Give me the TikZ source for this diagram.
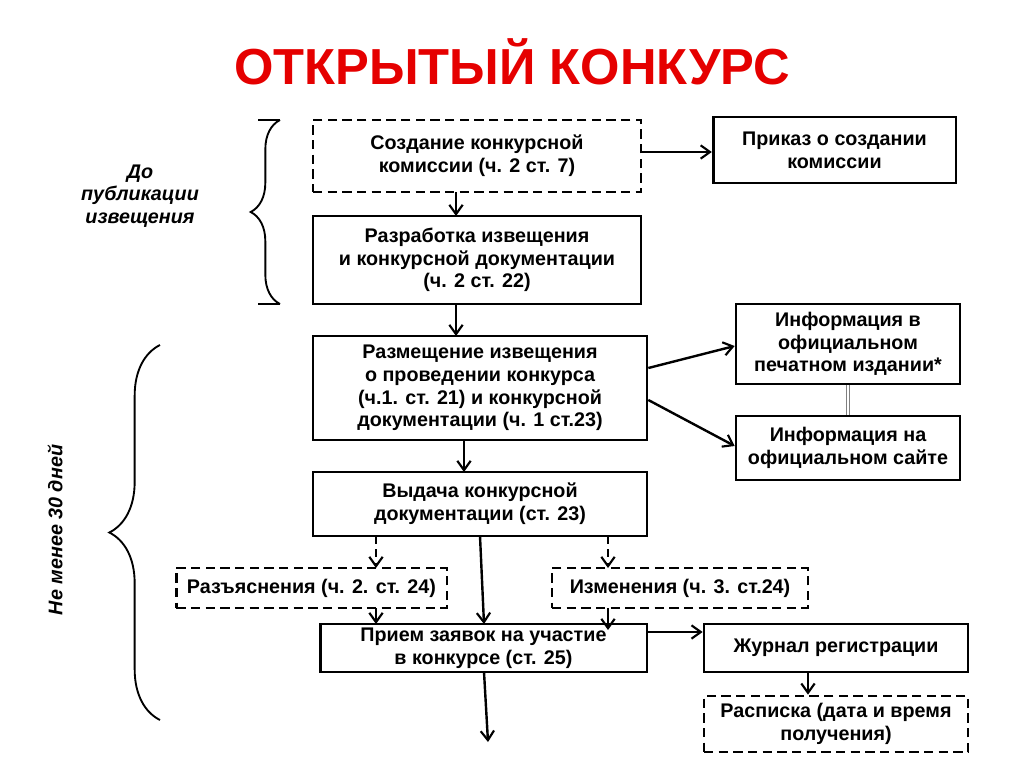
\documentclass[tikz,border=0pt]{standalone}
\usepackage{fontspec}
\setmainfont{Liberation Sans}
\usetikzlibrary{arrows.meta,decorations.pathreplacing}
\begin{document}
\begin{tikzpicture}[x=0.75pt,y=-0.75pt,
  box/.style={draw,line width=2pt,align=center,font=\bfseries\fontsize{14.8}{17}\selectfont,inner sep=0pt},
  dbox/.style={box,dash pattern=on 7pt off 4pt},
  arr/.style={-{Straight Barb[length=7pt,width=10pt,line width=1.6pt]},line width=1.8pt},
  darr/.style={arr,dash pattern=on 6pt off 4pt}]
\useasboundingbox (0,0) rectangle (1024,768);
\node[font=\bfseries\fontsize{38}{44}\selectfont,text=red!90!black] (title) at (512,62) {ОТКРЫТЫЙ КОНКУРС};
\node[dbox,minimum width=246pt,minimum height=54pt] (b1) at (477,156) {Создание конкурсной\\комиссии (ч. 2 ст. 7)};
\node[box,minimum width=182pt,minimum height=49.5pt] (pr) at (834.5,150) {Приказ о создании\\комиссии};
\node[box,minimum width=246pt,minimum height=66pt] (b2) at (477,260) {Разработка извещения\\и конкурсной документации\\(ч. 2 ст. 22)};
\node[box,minimum width=250.5pt,minimum height=78pt] (b3) at (480,388) {Размещение извещения\\ о проведении конкурса\\(ч.1. ст. 21) и конкурсной\\документации (ч. 1 ст.23)};
\node[box,minimum width=168pt,minimum height=60pt] (i1) at (848,344) {Информация в\\официальном\\печатном издании*};
\node[box,minimum width=168pt,minimum height=48pt] (i2) at (848,448) {Информация на\\официальном сайте};
\node[box,minimum width=250.5pt,minimum height=48pt] (b4) at (480,504) {Выдача конкурсной\\документации (ст. 23)};
\node[dbox,minimum width=203pt,minimum height=30pt] (r) at (311.5,588) {Разъяснения (ч. 2. ст. 24)};
\node[dbox,minimum width=192pt,minimum height=30pt] (iz) at (680,588) {Изменения (ч. 3. ст.24)};
\node[box,minimum width=245pt,minimum height=36pt] (b5) at (483.5,648) {Прием заявок на участие\\в конкурсе (ст. 25)};
\node[box,minimum width=198pt,minimum height=36pt] (j) at (836,648) {Журнал регистрации};
\node[dbox,minimum width=198pt,minimum height=42pt] (rs) at (836,724) {Расписка (дата и время\\получения)};
\coordinate (end) at (488,742);
\draw[arr] (b1.east |- 0,152) -- (pr.west |- 0,152);
\draw[arr] (456,192) -- (456,216);
\draw[arr] (456,304) -- (456,336);
\draw[arr] (464,440) -- (464,472);
\draw[arr] (b3.east |- 0,368) -- (i1.west |- 0,346);
\draw[arr] (b3.east |- 0,400) -- (i2.west |- 0,446);
\draw[double,line width=0.5pt,double distance=2pt,gray] (i1.south) -- (i2.north);
\draw[darr] (376,536) -- (376,568);
\draw[darr] (608,536) -- (608,568);
\draw[arr] (480,536) -- (484,624);
\draw[arr] (376,608) -- (376,624);
\draw[arr] (608,608) -- (608,630);
\draw[arr] (b5.east |- 0,632) -- (j.west |- 0,632);
\draw[arr] (j.south -| 808,0) -- (rs.north -| 808,0);
\draw[arr] (484,672) -- (end);
\draw[line width=1.4pt,decorate,decoration={brace,amplitude=22pt}] (280,304) -- (280,120);
\draw[line width=1.4pt] (280,120) -- (258,120) (280,304) -- (258,304);
\node[font=\bfseries\itshape\fontsize{14.8}{17}\selectfont,align=center] (l1) at (140,196) {До\\публикации\\извещения};
\draw[line width=1.4pt,decorate,decoration={brace,amplitude=38pt}] (160,720) -- (160,345);
\node[font=\bfseries\itshape\fontsize{14.8}{17}\selectfont,rotate=90] (l2) at (55,530) {Не менее 30 дней};
\end{tikzpicture}
\end{document}
